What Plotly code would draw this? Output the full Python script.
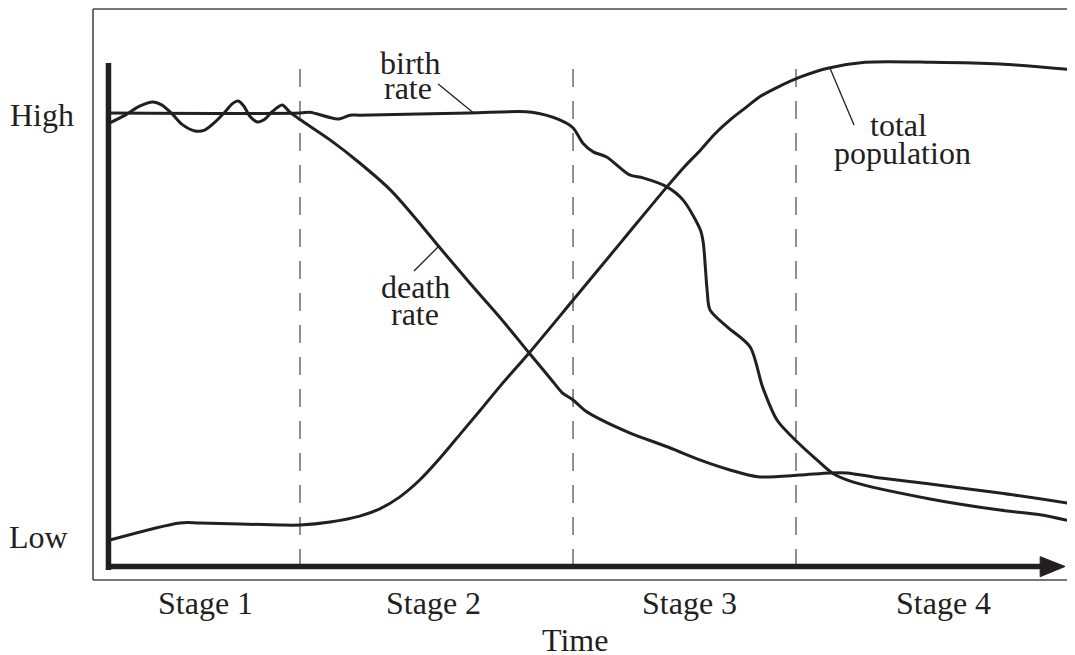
import plotly.graph_objects as go

# ---- data (time 0..100, level: Low=0, High=100) ----
birth_t = [0, 20.1, 21.1, 24.0, 25.3, 26.3, 37.8, 44.3, 47.2, 48.6, 49.6, 50.7, 52.1, 54.5, 55.9,
           58.4, 60.1, 61.9, 62.2, 62.6, 62.9, 64.7, 67.1, 68.4, 69.9, 72.0, 74.1, 75.8, 77.8,
           85.9, 93.2, 97.4, 101.0]
birth_v = [100, 100, 100.2, 98.6, 99.5, 99.5, 100, 100.2, 98.4, 96.5, 93.0, 90.9, 89.7, 85.5, 84.8,
           82.7, 79.6, 72.6, 69.6, 58.5, 53.9, 49.9, 45.2, 35.8, 28.1, 23.0, 18.7, 15.5, 13.6,
           9.6, 7.0, 5.9, 4.2]

death_t = [0.2, 1.8, 3.3, 4.7, 5.6, 6.7, 7.7, 9.1, 10.1, 11.2, 12.2, 13.0, 13.6, 14.2, 14.8,
           15.6, 16.3, 17.1, 18.2, 19.0, 20.1, 23.2, 26.3, 29.5, 32.3, 34.5, 37.8, 41.0, 44.0,
           46.2, 47.5, 48.6, 49.8, 51.4, 54.5, 58.7, 61.9, 65.0, 67.9, 72.3, 75.4, 77.2, 80.7,
           85.9, 93.2, 101.0]
death_v = [97.7, 99.5, 101.6, 102.6, 101.9, 99.8, 97.4, 95.8, 96.0, 97.9, 100.2, 102.2, 102.8,
           101.6, 99.3, 97.9, 98.4, 100.2, 101.9, 100.2, 98.4, 93.7, 88.3, 82.0, 74.9, 68.9, 60.2,
           52.0, 43.8, 37.9, 34.4, 32.8, 30.4, 28.3, 25.1, 21.6, 18.7, 16.4, 14.8, 15.2, 15.7,
           15.7, 14.5, 13.1, 11.0, 8.4]

pop_t = [0.2, 7.5, 9.6, 18.0, 20.1, 23.2, 26.3, 28.4, 30.5, 32.6, 34.7, 36.8, 38.9, 41.0, 44.0,
         48.6, 53.7, 58.4, 60.3, 61.9, 63.4, 65.0, 66.6, 68.1, 70.2, 72.3, 75.2, 79.1, 86.1,
         93.2, 100.8]
pop_v = [0, 4.0, 4.0, 3.5, 3.5, 4.2, 5.6, 7.3, 10.1, 14.1, 19.2, 24.8, 30.4, 36.1, 43.8,
         56.2, 70.0, 82.7, 87.6, 91.3, 95.1, 98.4, 101.2, 103.8, 106.3, 108.4, 110.5, 111.9, 111.9,
         111.5, 110.1]

stage_bounds = [20.06, 48.59, 71.89]
stage_labels = ["Stage 1", "Stage 2", "Stage 3", "Stage 4"]
stage_label_t = [10.2, 34.0, 60.8, 87.3]
level_labels = ["High", "Low"]
level_label_v = [99.5, 0.7]

X_RANGE = [-1.567, 101.04]
Y_RANGE = [-9.37, 124.36]

INK = "#231f20"
FONT = "Liberation Serif"
FS = 32

fig = go.Figure()
for t, v in [(birth_t, birth_v), (death_t, death_v), (pop_t, pop_v)]:
    fig.add_trace(go.Scatter(x=t, y=v, mode="lines",
                             line=dict(color=INK, width=3, shape="spline", smoothing=0.8),
                             hoverinfo="skip", showlegend=False, cliponaxis=False))

shapes = []
# outer frame (top, left, bottom)
for x0, y0, x1, y1 in [(0, 0, 0, 1), (0, 1, 1, 1), (0, 0, 1, 0)]:
    shapes.append(dict(type="line", xref="paper", yref="paper", x0=x0, y0=y0, x1=x1, y1=y1,
                       line=dict(color="#4a4a4a", width=1.6)))
# stage dividers
for b in stage_bounds:
    shapes.append(dict(type="line", xref="x", yref="y", x0=b, x1=b, y0=-6.3, y1=111.2,
                       line=dict(color="#555555", width=1.3, dash="18px,14px"), layer="below"))
# thick axes
AX_Y = -6.2
shapes.append(dict(type="line", xref="x", yref="y", x0=0.05, x1=0.05, y0=-7.0, y1=111.7,
                   line=dict(color=INK, width=5.5)))
shapes.append(dict(type="line", xref="x", yref="y", x0=-0.2, x1=97.6, y0=AX_Y, y1=AX_Y,
                   line=dict(color=INK, width=5.5)))
shapes.append(dict(type="path", xref="x", yref="y",
                   path=f"M 97.4 -3.9 L 100 {AX_Y} L 97.4 -8.6 Z",
                   fillcolor=INK, line=dict(color=INK, width=1)))
# leader lines
for x0, y0, x1, y1 in [(34.5, 106.8, 38.2, 100.0), (31.97, 63.0, 34.48, 68.6), (75.44, 110.5, 77.95, 97.2)]:
    shapes.append(dict(type="line", xref="x", yref="y", x0=x0, y0=y0, x1=x1, y1=y1,
                       line=dict(color=INK, width=1.3)))


def to_paper(t, v):
    return ((t - X_RANGE[0]) / (X_RANGE[1] - X_RANGE[0]),
            (v - Y_RANGE[0]) / (Y_RANGE[1] - Y_RANGE[0]))


ann = []
def txt(s, x, y):
    px, py = to_paper(x, y)
    ann.append(dict(text=s, x=px, y=py, xref="paper", yref="paper", showarrow=False,
                    xanchor="center", yanchor="middle",
                    font=dict(family=FONT, size=FS, color=INK)))

for s, x in zip(stage_labels, stage_label_t):
    txt(s, x, -14.75)
txt("Time", 48.8, -23.4)
txt(level_labels[0], -6.9, level_label_v[0])
txt(level_labels[1], -7.3, level_label_v[1])
txt("birth", 31.56, 111.7)
txt("rate", 31.35, 105.9)
txt("death", 32.08, 59.25)
txt("rate", 32.08, 52.9)
txt("total", 82.55, 97.2)
txt("population", 82.97, 90.6)

# the page body adds an 8px offset; size the figure so the frame lands as in the reference
fig.update_layout(
    width=1067, height=647,
    margin=dict(l=85, r=0, t=1, b=75),
    paper_bgcolor="white", plot_bgcolor="white",
    xaxis=dict(range=X_RANGE, visible=False, fixedrange=True),
    yaxis=dict(range=Y_RANGE, visible=False, fixedrange=True),
    shapes=shapes, annotations=ann, showlegend=False, hovermode=False,
)
fig.write_html("out.html", config={"displayModeBar": False})
